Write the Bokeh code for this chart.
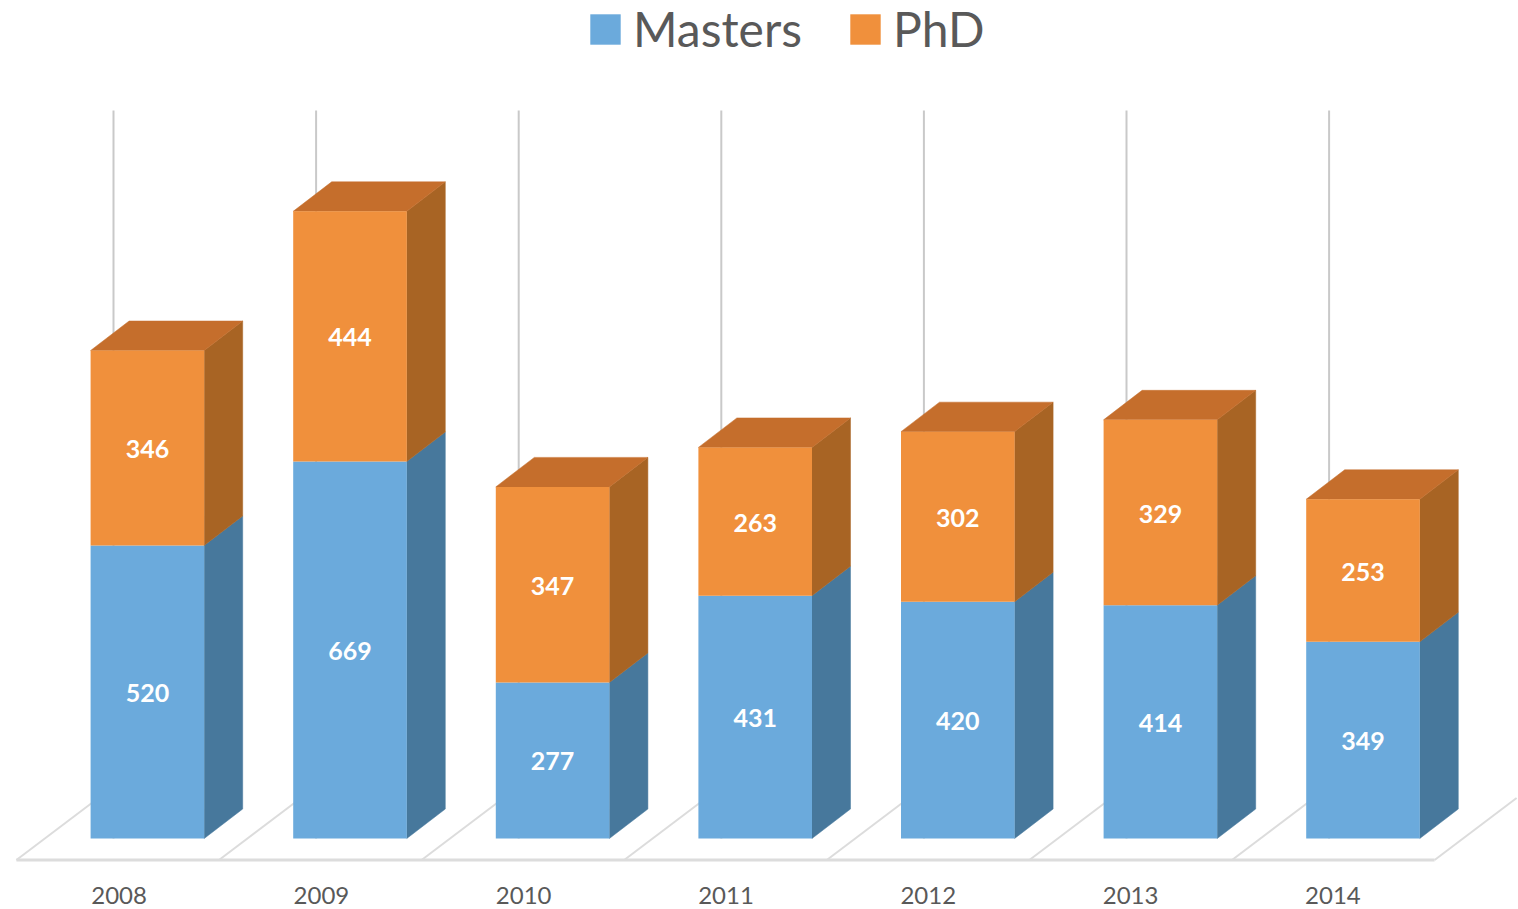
from bokeh.plotting import figure
from bokeh.models import Range1d, LinearAxis, FixedTicker, Legend, LegendItem, ColumnDataSource
from bokeh.core.properties import value
from bokeh.embed import file_html
from bokeh.resources import INLINE

years = [2008, 2009, 2010, 2011, 2012, 2013, 2014]
masters = [520, 669, 277, 431, 420, 414, 349]
phd = [346, 444, 347, 263, 302, 329, 253]

BLUE, BLUE_SIDE = "#6BAADC", "#47789C"
ORANGE, ORANGE_SIDE, ORANGE_TOP = "#F0903C", "#A86424", "#C56E2C"
GRID, FLOOR, TEXT = "#C9C9C9", "#DCDCDC", "#595959"
FONT = "Lato"

# page geometry: plot frame in page pixels
FW, FH = 1518, 870
LEFT, TOP = 0, 0
BASE_PX = 838          # pixel row of value 0
UNIT = 0.5635          # pixels per value unit
STEP = 202.6           # pixels per year
CENTER0 = 146.9        # pixel column of the first bar's centre

BAR_W = 113.6 / STEP
DX = 38.5 / STEP
DY = 29.5 / UNIT
WALL = -33.9 / STEP    # back-wall line offset from a bar centre
FLOOR_Y = -21.5 / UNIT
FLOOR_X0 = -131 / STEP
FLOOR_DX = 82 / STEP
FLOOR_DY = 62 / UNIT
GRID_TOP = (BASE_PX - 110) / UNIT

x_range = Range1d((LEFT - CENTER0) / STEP, (LEFT + FW - CENTER0) / STEP)
y_range = Range1d((BASE_PX - (TOP + FH)) / UNIT, (BASE_PX - TOP) / UNIT)

p = figure(frame_width=FW, frame_height=FH, x_range=x_range, y_range=y_range,
           x_axis_location=None, y_axis_location=None, toolbar_location=None,
           output_backend="svg", min_border=0, min_border_bottom=39, outline_line_color=None,
           background_fill_color="white", border_fill_color="white")
p.grid.visible = False

idx = list(range(len(years)))

# year axis, on its own scale so that the labels sit where the original has them
p.extra_x_ranges["years"] = Range1d(2008 + (LEFT - 118.6) / 202.3, 2008 + (LEFT + FW - 118.6) / 202.3)
axis = LinearAxis(x_range_name="years", ticker=FixedTicker(ticks=years))
axis.axis_line_color = None
axis.major_tick_line_color = None
axis.minor_tick_line_color = None
axis.major_label_standoff = 10
axis.major_label_text_font = FONT
axis.major_label_text_font_size = "24px"
axis.major_label_text_color = TEXT
p.add_layout(axis, "below")

# back wall lines
p.segment(x0=[i + WALL for i in idx], x1=[i + WALL for i in idx],
          y0=[0] * len(idx), y1=[GRID_TOP] * len(idx), line_color=GRID, line_width=2)

# floor
n = len(idx)
p.segment(x0=[i + FLOOR_X0 for i in range(n + 1)], x1=[i + FLOOR_X0 + FLOOR_DX for i in range(n + 1)],
          y0=[FLOOR_Y] * (n + 1), y1=[FLOOR_Y + FLOOR_DY] * (n + 1), line_color=FLOOR, line_width=2)
p.segment(x0=[FLOOR_X0], x1=[n + FLOOR_X0], y0=[FLOOR_Y], y1=[FLOOR_Y], line_color=FLOOR, line_width=3)

tops = [m + d for m, d in zip(masters, phd)]
rx = [i + BAR_W / 2 for i in idx]
lx = [i - BAR_W / 2 for i in idx]


def side(bottom, top):
    xs = [[r, r + DX, r + DX, r] for r in rx]
    ys = [[b, b + DY, t + DY, t] for b, t in zip(bottom, top)]
    return xs, ys


xs, ys = side([0] * n, masters)
p.patches(xs, ys, fill_color=BLUE_SIDE, line_color=BLUE_SIDE, line_width=0.5)
xs, ys = side(masters, tops)
p.patches(xs, ys, fill_color=ORANGE_SIDE, line_color=ORANGE_SIDE, line_width=0.5)
p.patches([[l, l + DX, r + DX, r] for l, r in zip(lx, rx)],
          [[t, t + DY, t + DY, t] for t in tops],
          fill_color=ORANGE_TOP, line_color=ORANGE_TOP, line_width=0.5)

r1 = p.vbar(x=idx, width=BAR_W, bottom=0, top=masters, fill_color=BLUE, line_color=None)
r2 = p.vbar(x=idx, width=BAR_W, bottom=masters, top=tops, fill_color=ORANGE, line_color=None)

labels = ColumnDataSource(dict(
    x=idx + idx,
    y=[m / 2 for m in masters] + [m + d / 2 for m, d in zip(masters, phd)],
    t=[str(v) for v in masters + phd],
))
p.text(x="x", y="y", text="t", source=labels, text_color="white", text_font=value(FONT),
       text_font_style="bold", text_font_size="25px", text_align="center", text_baseline="middle",
       y_offset=1)

legend = Legend(items=[LegendItem(label="Masters", renderers=[r1]), LegendItem(label="PhD", renderers=[r2])],
                orientation="horizontal", location=(586, FH - 57), border_line_color=None,
                background_fill_alpha=0, glyph_width=38, glyph_height=38, label_standoff=9,
                spacing=44, padding=0, margin=0, label_text_font=FONT, label_text_font_size="48px",
                label_text_color=TEXT, label_height=30, label_width=30)
p.add_layout(legend, "center")

open("out.html", "w").write(file_html(p, INLINE))
